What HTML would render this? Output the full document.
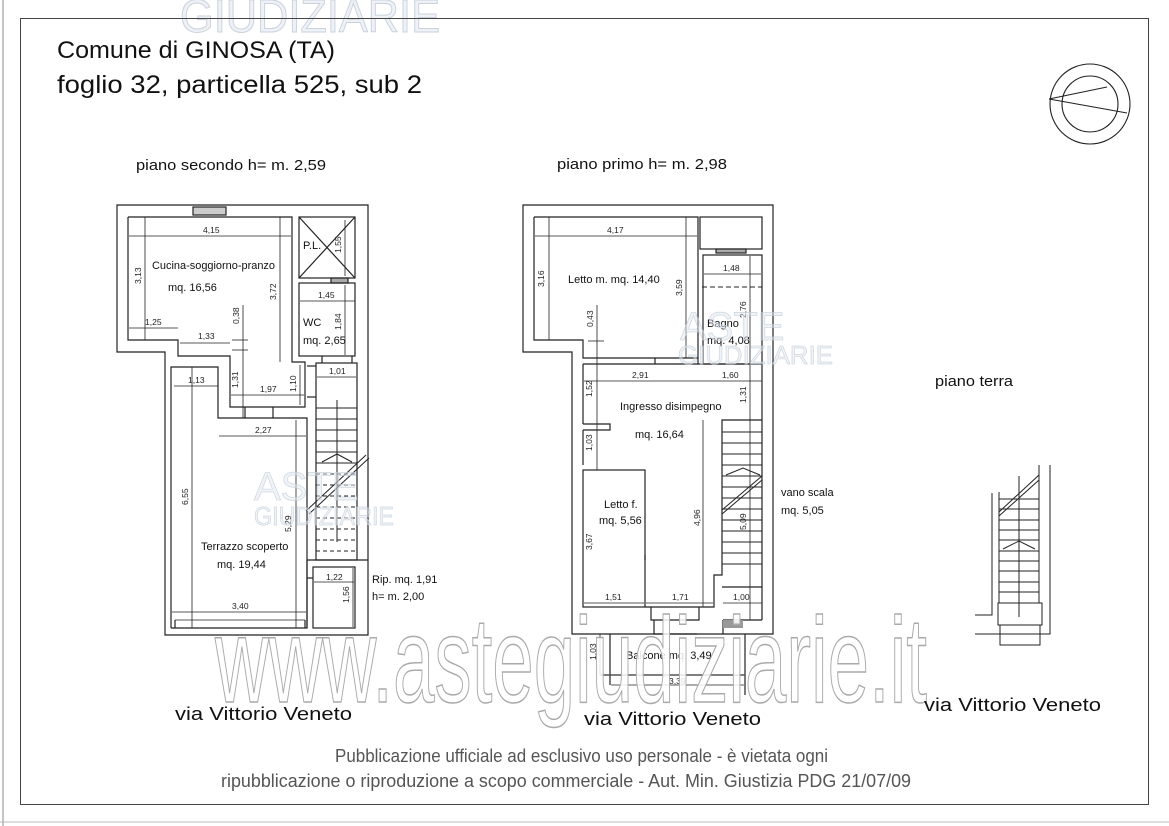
<!DOCTYPE html>
<html><head><meta charset="utf-8"><style>
html,body{margin:0;padding:0;background:#fff;}
svg{display:block;font-family:"Liberation Sans",sans-serif;}
</style></head><body>
<svg width="1169" height="826" viewBox="0 0 1169 826" xmlns="http://www.w3.org/2000/svg">
<rect width="1169" height="826" fill="#fff"/>
<!-- top watermark -->
<text x="180" y="32" font-size="46" fill="#eef1f5" stroke="#c9d2dc" stroke-width="1" textLength="260" lengthAdjust="spacingAndGlyphs">GIUDIZIARIE</text>
<!-- frame -->
<line x1="3" y1="0" x2="3" y2="826" stroke="#888" stroke-width="1"/>
<rect x="20.5" y="18.5" width="1128" height="786" fill="none" stroke="#444" stroke-width="1"/>
<line x1="0" y1="822" x2="1169" y2="822" stroke="#bbb"/>

<text x="57" y="58" font-size="24" fill="#111" textLength="278" lengthAdjust="spacingAndGlyphs">Comune di GINOSA (TA)</text>
<text x="57" y="93" font-size="25" fill="#111" textLength="365" lengthAdjust="spacingAndGlyphs">foglio 32, particella 525, sub 2</text>

<!-- compass -->
<g fill="none" stroke="#222" stroke-width="1.1">
<circle cx="1090" cy="104" r="40"/>
<circle cx="1090" cy="104" r="28"/>
<line x1="1049" y1="99" x2="1107" y2="87"/>
<line x1="1049" y1="99" x2="1127" y2="113"/>
</g>

<text x="136" y="170" font-size="15" fill="#111" textLength="190" lengthAdjust="spacingAndGlyphs">piano secondo h= m. 2,59</text>
<text x="557" y="169" font-size="15" fill="#111" textLength="170" lengthAdjust="spacingAndGlyphs">piano primo h= m. 2,98</text>
<text x="935" y="386" font-size="15" fill="#111" textLength="78" lengthAdjust="spacingAndGlyphs">piano terra</text>

<!-- ================= LEFT PLAN ================= -->
<g fill="none" stroke="#222" stroke-width="1.2">
<polygon points="117,205 368,205 368,635 165,635 165,352 117,352"/>
<rect x="193" y="207" width="33" height="8" fill="#ccc"/>
<polyline points="128,217 292,217 292,362 305,362 305,407 230,407 230,356 178,356 178,340 128,340 128,217"/>
<polyline points="171,628 171,367 218,367 218,418 307,418 307,628 171,628"/>
<line x1="175" y1="628" x2="175" y2="620"/><line x1="305" y1="628" x2="305" y2="620"/>
<line x1="175" y1="620" x2="305" y2="620" stroke-width="0.8"/>
<rect x="299" y="217" width="56" height="61"/>
<line x1="299" y1="217" x2="355" y2="278"/><line x1="355" y1="217" x2="299" y2="278"/>
<rect x="331" y="278" width="17" height="5" fill="#aaa"/>
<rect x="299" y="283" width="56" height="73"/>
<rect x="316" y="363" width="41" height="197"/>
<line x1="307" y1="560" x2="368" y2="560"/>
<line x1="307" y1="560" x2="307" y2="628"/>
<rect x="313" y="567" width="42" height="61"/>
<line x1="245" y1="407" x2="245" y2="418"/><line x1="273" y1="407" x2="273" y2="418"/>
<line x1="307" y1="366" x2="316" y2="366"/><line x1="307" y1="397" x2="316" y2="397"/>
<line x1="307" y1="578" x2="313" y2="578"/>
<line x1="322" y1="356" x2="322" y2="363"/><line x1="352" y1="356" x2="352" y2="363"/>
</g>
<g stroke="#222" stroke-width="1">
<line x1="316" y1="408" x2="357" y2="408"/><line x1="316" y1="419" x2="357" y2="419"/>
<line x1="316" y1="430" x2="357" y2="430"/><line x1="316" y1="441" x2="357" y2="441"/>
<line x1="316" y1="452" x2="357" y2="452"/>
<line x1="316" y1="463" x2="357" y2="463"/>
<g stroke-dasharray="4,3">
<line x1="316" y1="474" x2="357" y2="474"/><line x1="316" y1="485" x2="357" y2="485"/>
<line x1="316" y1="496" x2="357" y2="496"/><line x1="316" y1="507" x2="357" y2="507"/>
<line x1="316" y1="518" x2="357" y2="518"/><line x1="316" y1="529" x2="357" y2="529"/>
<line x1="316" y1="540" x2="357" y2="540"/><line x1="316" y1="551" x2="357" y2="551"/>
</g>
<line x1="337" y1="400" x2="337" y2="542"/>
<polyline points="322,462 337,454 352,462" fill="none"/>
<line x1="306" y1="511" x2="366" y2="455"/><line x1="309" y1="514" x2="369" y2="458"/>
</g>
<!-- left dims -->
<g stroke="#222" stroke-width="0.8" fill="none">
<line x1="129" y1="236" x2="291" y2="236"/>
<line x1="145" y1="217" x2="145" y2="340"/>
<line x1="280" y1="217" x2="280" y2="362"/>
<line x1="129" y1="328" x2="178" y2="328"/>
<line x1="180" y1="343" x2="230" y2="343"/>
<line x1="243" y1="305" x2="243" y2="355"/><line x1="232" y1="340" x2="248" y2="340"/><line x1="232" y1="350" x2="248" y2="350"/>
<line x1="243" y1="355" x2="243" y2="418"/>
<line x1="231" y1="395" x2="304" y2="395"/>
<line x1="300" y1="365" x2="300" y2="405"/>
<line x1="174" y1="386" x2="218" y2="386"/>
<line x1="192" y1="367" x2="192" y2="628"/>
<line x1="219" y1="436" x2="306" y2="436"/>
<line x1="296" y1="420" x2="296" y2="628"/>
<line x1="172" y1="612" x2="306" y2="612"/>
<line x1="300" y1="301" x2="355" y2="301"/>
<line x1="345" y1="220" x2="345" y2="276"/>
<line x1="345" y1="285" x2="345" y2="355"/>
<line x1="317" y1="377" x2="356" y2="377"/>
<line x1="314" y1="582" x2="354" y2="582"/>
<line x1="353" y1="568" x2="353" y2="627"/>
</g>
<g font-size="8.5" fill="#222">
<text x="203" y="233">4,15</text>
<text x="141" y="284" transform="rotate(-90 141 284)">3,13</text>
<text x="276" y="300" transform="rotate(-90 276 300)">3,72</text>
<text x="145" y="325">1,25</text>
<text x="198" y="339">1,33</text>
<text x="239" y="324" transform="rotate(-90 239 324)">0,38</text>
<text x="238" y="388" transform="rotate(-90 238 388)">1,31</text>
<text x="260" y="392">1,97</text>
<text x="296" y="392" transform="rotate(-90 296 392)">1,10</text>
<text x="188" y="383">1,13</text>
<text x="188" y="505" transform="rotate(-90 188 505)">6,55</text>
<text x="255" y="433">2,27</text>
<text x="291" y="532" transform="rotate(-90 291 532)">5,29</text>
<text x="232" y="609">3,40</text>
<text x="318" y="298">1,45</text>
<text x="341" y="253" transform="rotate(-90 341 253)">1,55</text>
<text x="341" y="330" transform="rotate(-90 341 330)">1,84</text>
<text x="329" y="374">1,01</text>
<text x="326" y="580">1,22</text>
<text x="349" y="603" transform="rotate(-90 349 603)">1,56</text>
</g>
<g font-size="11" fill="#111">
<text x="152" y="269" textLength="123" lengthAdjust="spacingAndGlyphs">Cucina-soggiorno-pranzo</text>
<text x="168" y="291">mq. 16,56</text>
<text x="303" y="249">P.L.</text>
<text x="303" y="326">WC</text>
<text x="303" y="344">mq. 2,65</text>
<text x="201" y="550">Terrazzo scoperto</text>
<text x="217" y="568">mq. 19,44</text>
<text x="372" y="583">Rip. mq. 1,91</text>
<text x="372" y="600">h= m. 2,00</text>
</g>

<!-- ================= MIDDLE PLAN ================= -->
<g fill="none" stroke="#222" stroke-width="1.2">
<polygon points="523,205 773,205 773,634 572,634 572,352 523,352"/>
<polyline points="534,217 698,217 698,358 583,358 583,340 534,340 534,217"/>
<rect x="700" y="217" width="62" height="32"/>
<rect x="716" y="249" width="30" height="4" fill="#aaa"/>
<rect x="703" y="255" width="59" height="109"/>
<polyline points="583,364 762,364"/>
<line x1="583" y1="364" x2="583" y2="424"/>
<polyline points="583,424 610,424 610,430 583,430"/>
<line x1="583" y1="430" x2="583" y2="465"/>
<rect x="583" y="470" width="62" height="137"/>
<line x1="698" y1="358" x2="698" y2="364"/>
<line x1="762" y1="364" x2="762" y2="587"/>
<polyline points="645,607 714,607 714,575 722,575 722,420 762,420"/>
<polyline points="651,607 651,620 699,620 699,607"/>
<polyline points="654,620 654,634 697,634"/>
<line x1="722" y1="587" x2="762" y2="587"/>
<line x1="762" y1="587" x2="762" y2="620"/>
<line x1="723" y1="620" x2="762" y2="620"/>
<line x1="723" y1="620" x2="723" y2="634"/>
<line x1="610" y1="634" x2="610" y2="685"/>
<line x1="745" y1="634" x2="745" y2="695"/>
<line x1="600" y1="675" x2="745" y2="675" stroke="#555" stroke-width="1.5"/>
<line x1="655" y1="358" x2="655" y2="364"/>
<line x1="645" y1="555" x2="645" y2="560"/>
</g>
<g stroke="#222" stroke-width="1">
<line x1="722" y1="432" x2="762" y2="432"/><line x1="722" y1="443" x2="762" y2="443"/>
<line x1="722" y1="454" x2="762" y2="454"/><line x1="722" y1="465" x2="762" y2="465"/>
<line x1="722" y1="476" x2="762" y2="476"/><line x1="722" y1="487" x2="762" y2="487"/>
<line x1="722" y1="498" x2="762" y2="498"/><line x1="722" y1="509" x2="762" y2="509"/>
<line x1="722" y1="520" x2="762" y2="520"/><line x1="722" y1="531" x2="762" y2="531"/>
<line x1="722" y1="542" x2="762" y2="542"/><line x1="722" y1="553" x2="762" y2="553"/>
<line x1="722" y1="564" x2="762" y2="564"/>
<polyline points="726,475 743,468 760,475" fill="none"/>
<line x1="722" y1="510" x2="762" y2="476"/><line x1="722" y1="514" x2="762" y2="480"/>
<line x1="702" y1="287" x2="762" y2="287" stroke-dasharray="5,3"/>
<rect x="723" y="620" width="20" height="8" fill="#999" stroke="none"/>
</g>
<g stroke="#222" stroke-width="0.8" fill="none">
<line x1="535" y1="236" x2="697" y2="236"/>
<line x1="549" y1="217" x2="549" y2="340"/>
<line x1="686" y1="217" x2="686" y2="358"/>
<line x1="597" y1="305" x2="597" y2="470"/>
<line x1="588" y1="341" x2="604" y2="341"/>
<line x1="584" y1="381" x2="700" y2="381"/>
<line x1="700" y1="381" x2="762" y2="381"/>
<line x1="704" y1="274" x2="761" y2="274"/>
<line x1="750" y1="256" x2="750" y2="363"/>
<line x1="750" y1="365" x2="750" y2="620"/>
<line x1="703" y1="420" x2="703" y2="607"/>
<line x1="584" y1="603" x2="644" y2="603"/>
<line x1="646" y1="603" x2="713" y2="603"/>
<line x1="723" y1="603" x2="762" y2="603"/>
<line x1="600" y1="634" x2="600" y2="675"/>
<line x1="611" y1="685" x2="744" y2="685"/>
</g>
<g font-size="8.5" fill="#222">
<text x="607" y="233">4,17</text>
<text x="544" y="287" transform="rotate(-90 544 287)">3,16</text>
<text x="682" y="296" transform="rotate(-90 682 296)">3,59</text>
<text x="593" y="327" transform="rotate(-90 593 327)">0,43</text>
<text x="632" y="378">2,91</text>
<text x="722" y="378">1,60</text>
<text x="723" y="271">1,48</text>
<text x="746" y="318" transform="rotate(-90 746 318)">2,76</text>
<text x="746" y="403" transform="rotate(-90 746 403)">1,31</text>
<text x="592" y="397" transform="rotate(-90 592 397)">1,52</text>
<text x="592" y="451" transform="rotate(-90 592 451)">1,03</text>
<text x="592" y="550" transform="rotate(-90 592 550)">3,67</text>
<text x="700" y="526" transform="rotate(-90 700 526)">4,96</text>
<text x="746" y="530" transform="rotate(-90 746 530)">5,09</text>
<text x="605" y="600">1,51</text>
<text x="672" y="600">1,71</text>
<text x="733" y="600">1,00</text>
<text x="596" y="660" transform="rotate(-90 596 660)">1,03</text>
<text x="669" y="684">3,39</text>
</g>
<g font-size="11" fill="#111">
<text x="568" y="283">Letto m. mq. 14,40</text>
<text x="707" y="327">Bagno</text>
<text x="707" y="344">mq. 4,08</text>
<text x="620" y="410">Ingresso disimpegno</text>
<text x="635" y="438">mq. 16,64</text>
<text x="604" y="508">Letto f.</text>
<text x="599" y="524">mq. 5,56</text>
<text x="781" y="496">vano scala</text>
<text x="781" y="514">mq. 5,05</text>
<text x="626" y="659">Balcone mq. 3,49</text>
</g>

<!-- ================= RIGHT STAIR ================= -->
<g stroke="#222" stroke-width="1" fill="none">
<polyline points="975,615 992,615 992,493"/>
<line x1="999" y1="492" x2="999" y2="603"/>
<line x1="1039" y1="465" x2="1039" y2="603"/>
<polyline points="975,634 1050,634 1050,465"/>
<line x1="999" y1="499" x2="1039" y2="499"/><line x1="999" y1="509" x2="1039" y2="509"/>
<line x1="999" y1="520" x2="1039" y2="520"/><line x1="999" y1="530" x2="1039" y2="530"/>
<line x1="999" y1="540" x2="1039" y2="540"/><line x1="999" y1="551" x2="1039" y2="551"/>
<line x1="999" y1="561" x2="1039" y2="561"/><line x1="999" y1="571" x2="1039" y2="571"/>
<line x1="999" y1="582" x2="1039" y2="582"/><line x1="999" y1="592" x2="1039" y2="592"/>
<line x1="1019" y1="476" x2="1019" y2="617"/>
<polyline points="1003,549 1019,541 1035,549"/>
<line x1="999" y1="512" x2="1039" y2="475"/><line x1="999" y1="516" x2="1039" y2="480"/>
<rect x="998" y="603" width="44" height="22"/>
<rect x="1000" y="625" width="40" height="20"/>
</g>

<!-- watermark logos -->
<g fill-opacity="0.5" stroke-opacity="0.7">
<text x="254" y="500" font-size="40" fill="#e4e9f0" stroke="#c2ccd8" stroke-width="0.8">ASTE</text>
<text x="254" y="525" font-size="26" fill="#e4e9f0" stroke="#c2ccd8" stroke-width="0.8" textLength="140" lengthAdjust="spacingAndGlyphs">GIUDIZIARIE</text>
<text x="680" y="340" font-size="40" fill="#e4e9f0" stroke="#c2ccd8" stroke-width="0.8">ASTE</text>
<text x="678" y="364" font-size="26" fill="#e4e9f0" stroke="#c2ccd8" stroke-width="0.8" textLength="155" lengthAdjust="spacingAndGlyphs">GIUDIZIARIE</text>
</g>

<!-- big watermark -->
<text x="215" y="702" font-size="122" fill="#fff" fill-opacity="0.85" stroke="#aaa" stroke-width="1.5" textLength="712" lengthAdjust="spacingAndGlyphs">www.astegiudiziarie.it</text>

<text x="175" y="720" font-size="18" fill="#111" textLength="177" lengthAdjust="spacingAndGlyphs">via Vittorio Veneto</text>
<text x="584" y="725" font-size="18" fill="#111" textLength="177" lengthAdjust="spacingAndGlyphs">via Vittorio Veneto</text>
<text x="924" y="711" font-size="18" fill="#111" textLength="177" lengthAdjust="spacingAndGlyphs">via Vittorio Veneto</text>

<text x="335" y="762" font-size="18" fill="#555" textLength="493" lengthAdjust="spacingAndGlyphs">Pubblicazione ufficiale ad esclusivo uso personale - è vietata ogni</text>
<text x="221" y="787" font-size="18" fill="#555" textLength="690" lengthAdjust="spacingAndGlyphs">ripubblicazione o riproduzione a scopo commerciale - Aut. Min. Giustizia PDG 21/07/09</text>
</svg>
</body></html>
